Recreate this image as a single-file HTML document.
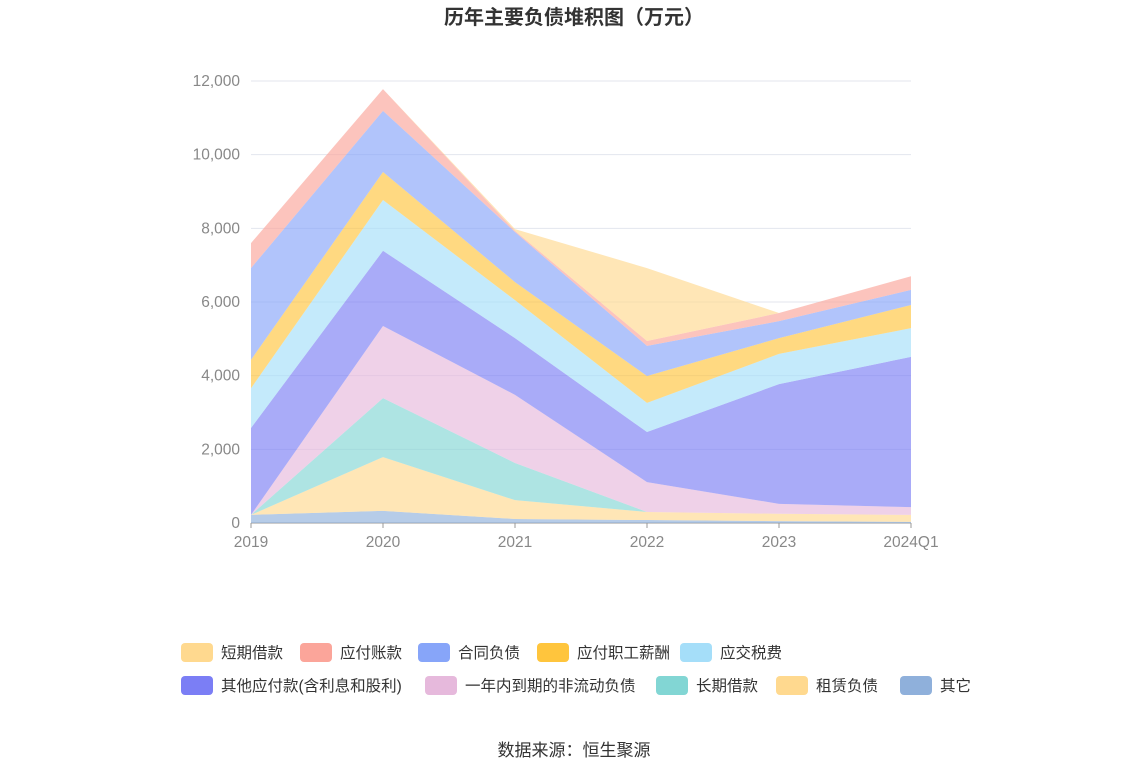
<!DOCTYPE html>
<html><head><meta charset="utf-8">
<style>
body{margin:0;background:#fff;font-family:"Liberation Sans","Noto Sans CJK SC",sans-serif;}
#wrap{position:relative;width:1148px;height:776px;overflow:hidden;}
.lg{position:absolute;display:flex;align-items:center;font-size:15.5px;color:#333;}
.sw{width:32px;height:19px;border-radius:4px;margin-right:8px;}
</style></head><body>
<div id="wrap">
<div style="position:absolute;top:1px;left:0;width:1148px;text-align:center;font-size:20px;font-weight:bold;color:#333;">历年主要负债堆积图（万元）</div>
<svg id="chart" width="1148" height="600" style="position:absolute;left:0;top:0"></svg>
<div id="legend"></div>
<div style="position:absolute;top:736px;left:0;width:1148px;text-align:center;font-size:17px;color:#333;">数据来源：恒生聚源</div>
</div>
<script>
const categories=["2019","2020","2021","2022","2023","2024Q1"];
const yTicks=[0,2000,4000,6000,8000,10000,12000];
const seriesNames=["其它","租赁负债","长期借款","一年内到期的非流动负债","其他应付款(含利息和股利)","应交税费","应付职工薪酬","合同负债","应付账款","短期借款"];
const sOther=[220,330,110,80,50,30];
const sLease=[0,1460,510,220,200,190];
const sLongLoan=[0,1600,1010,0,0,0];
const sCurrentNonCur=[0,1960,1850,810,270,210];
const sOtherPay=[2360,2040,1540,1360,3250,4080];
const sTax=[1080,1380,1030,790,820,780];
const sSalary=[770,760,490,730,430,630];
const sContract=[2490,1660,1360,820,460,410];
const sPayable=[680,590,30,130,220,370];
const sShortLoan=[0,0,50,1980,0,0];
const seriesValues=[sOther,sLease,sLongLoan,sCurrentNonCur,sOtherPay,sTax,sSalary,sContract,sPayable,sShortLoan];
const colors=["#8fb0db","#ffd98f","#82d6d4","#e6b9dc","#7b7ef5","#a5def9","#ffc53d","#87a5f9","#fba59a","#ffd98f"];
const legendOrder=[9,8,7,6,5,4,3,2,1,0];
const legendPos=[[181,651],[300,651],[418,651],[537,651],[680,651],[181,684],[425,684],[656,684],[776,684],[900,684]];
const NS="http://www.w3.org/2000/svg";
const svg=document.getElementById('chart');
const x0=251,x1=911,yBase=523,yTop=81,yMax=12000;
const xs=i=>x0+(x1-x0)*i/(categories.length-1);
const ys=v=>yBase-(yBase-yTop)*v/yMax;
function mk(t,a){const e=document.createElementNS(NS,t);for(const k in a)e.setAttribute(k,a[k]);svg.appendChild(e);return e;}
yTicks.forEach(v=>{
 const l=mk('line',{x1:x0,x2:x1,y1:ys(v),y2:ys(v),stroke:v===0?'#999':'#e3e6ee','stroke-width':1});
 
 
 const t=mk('text',{x:240,y:ys(v)+5,'text-anchor':'end','font-size':15.5,fill:'#888'});
 t.textContent=v.toLocaleString('en-US');
 
 
});
categories.forEach((c,i)=>{
 const tk=mk('line',{x1:xs(i),x2:xs(i),y1:yBase,y2:yBase+5,stroke:'#999'});
 
 
 const t=mk('text',{x:xs(i),y:547,'text-anchor':'middle','font-size':15.5,fill:'#888'});
 t.textContent=c;
 
 
});
let cum=categories.map(()=>0);
seriesValues.forEach((arr,si)=>{
 const lower=cum.slice();const upper=cum.map((c,i)=>c+arr[i]);
 let d='';
 upper.forEach((v,i)=>{d+=(i?'L':'M')+xs(i)+','+ys(v);});
 for(let i=lower.length-1;i>=0;i--)d+='L'+xs(i)+','+ys(lower[i]);
 const p=mk('path',{d:d+'Z',fill:colors[si],'fill-opacity':0.65,stroke:'none'});
 
 
 cum=upper;
});
const lg=document.getElementById('legend');
legendOrder.forEach((si,k)=>{
 const d=document.createElement('div');d.className='lg';
 d.style.left=legendPos[k][0]+'px';d.style.top=(legendPos[k][1]-10)+'px';
 d.innerHTML='<div class="sw" style="background:'+colors[si]+'"></div>'+seriesNames[si];
 
 
 lg.appendChild(d);
});
</script>
</body></html>
